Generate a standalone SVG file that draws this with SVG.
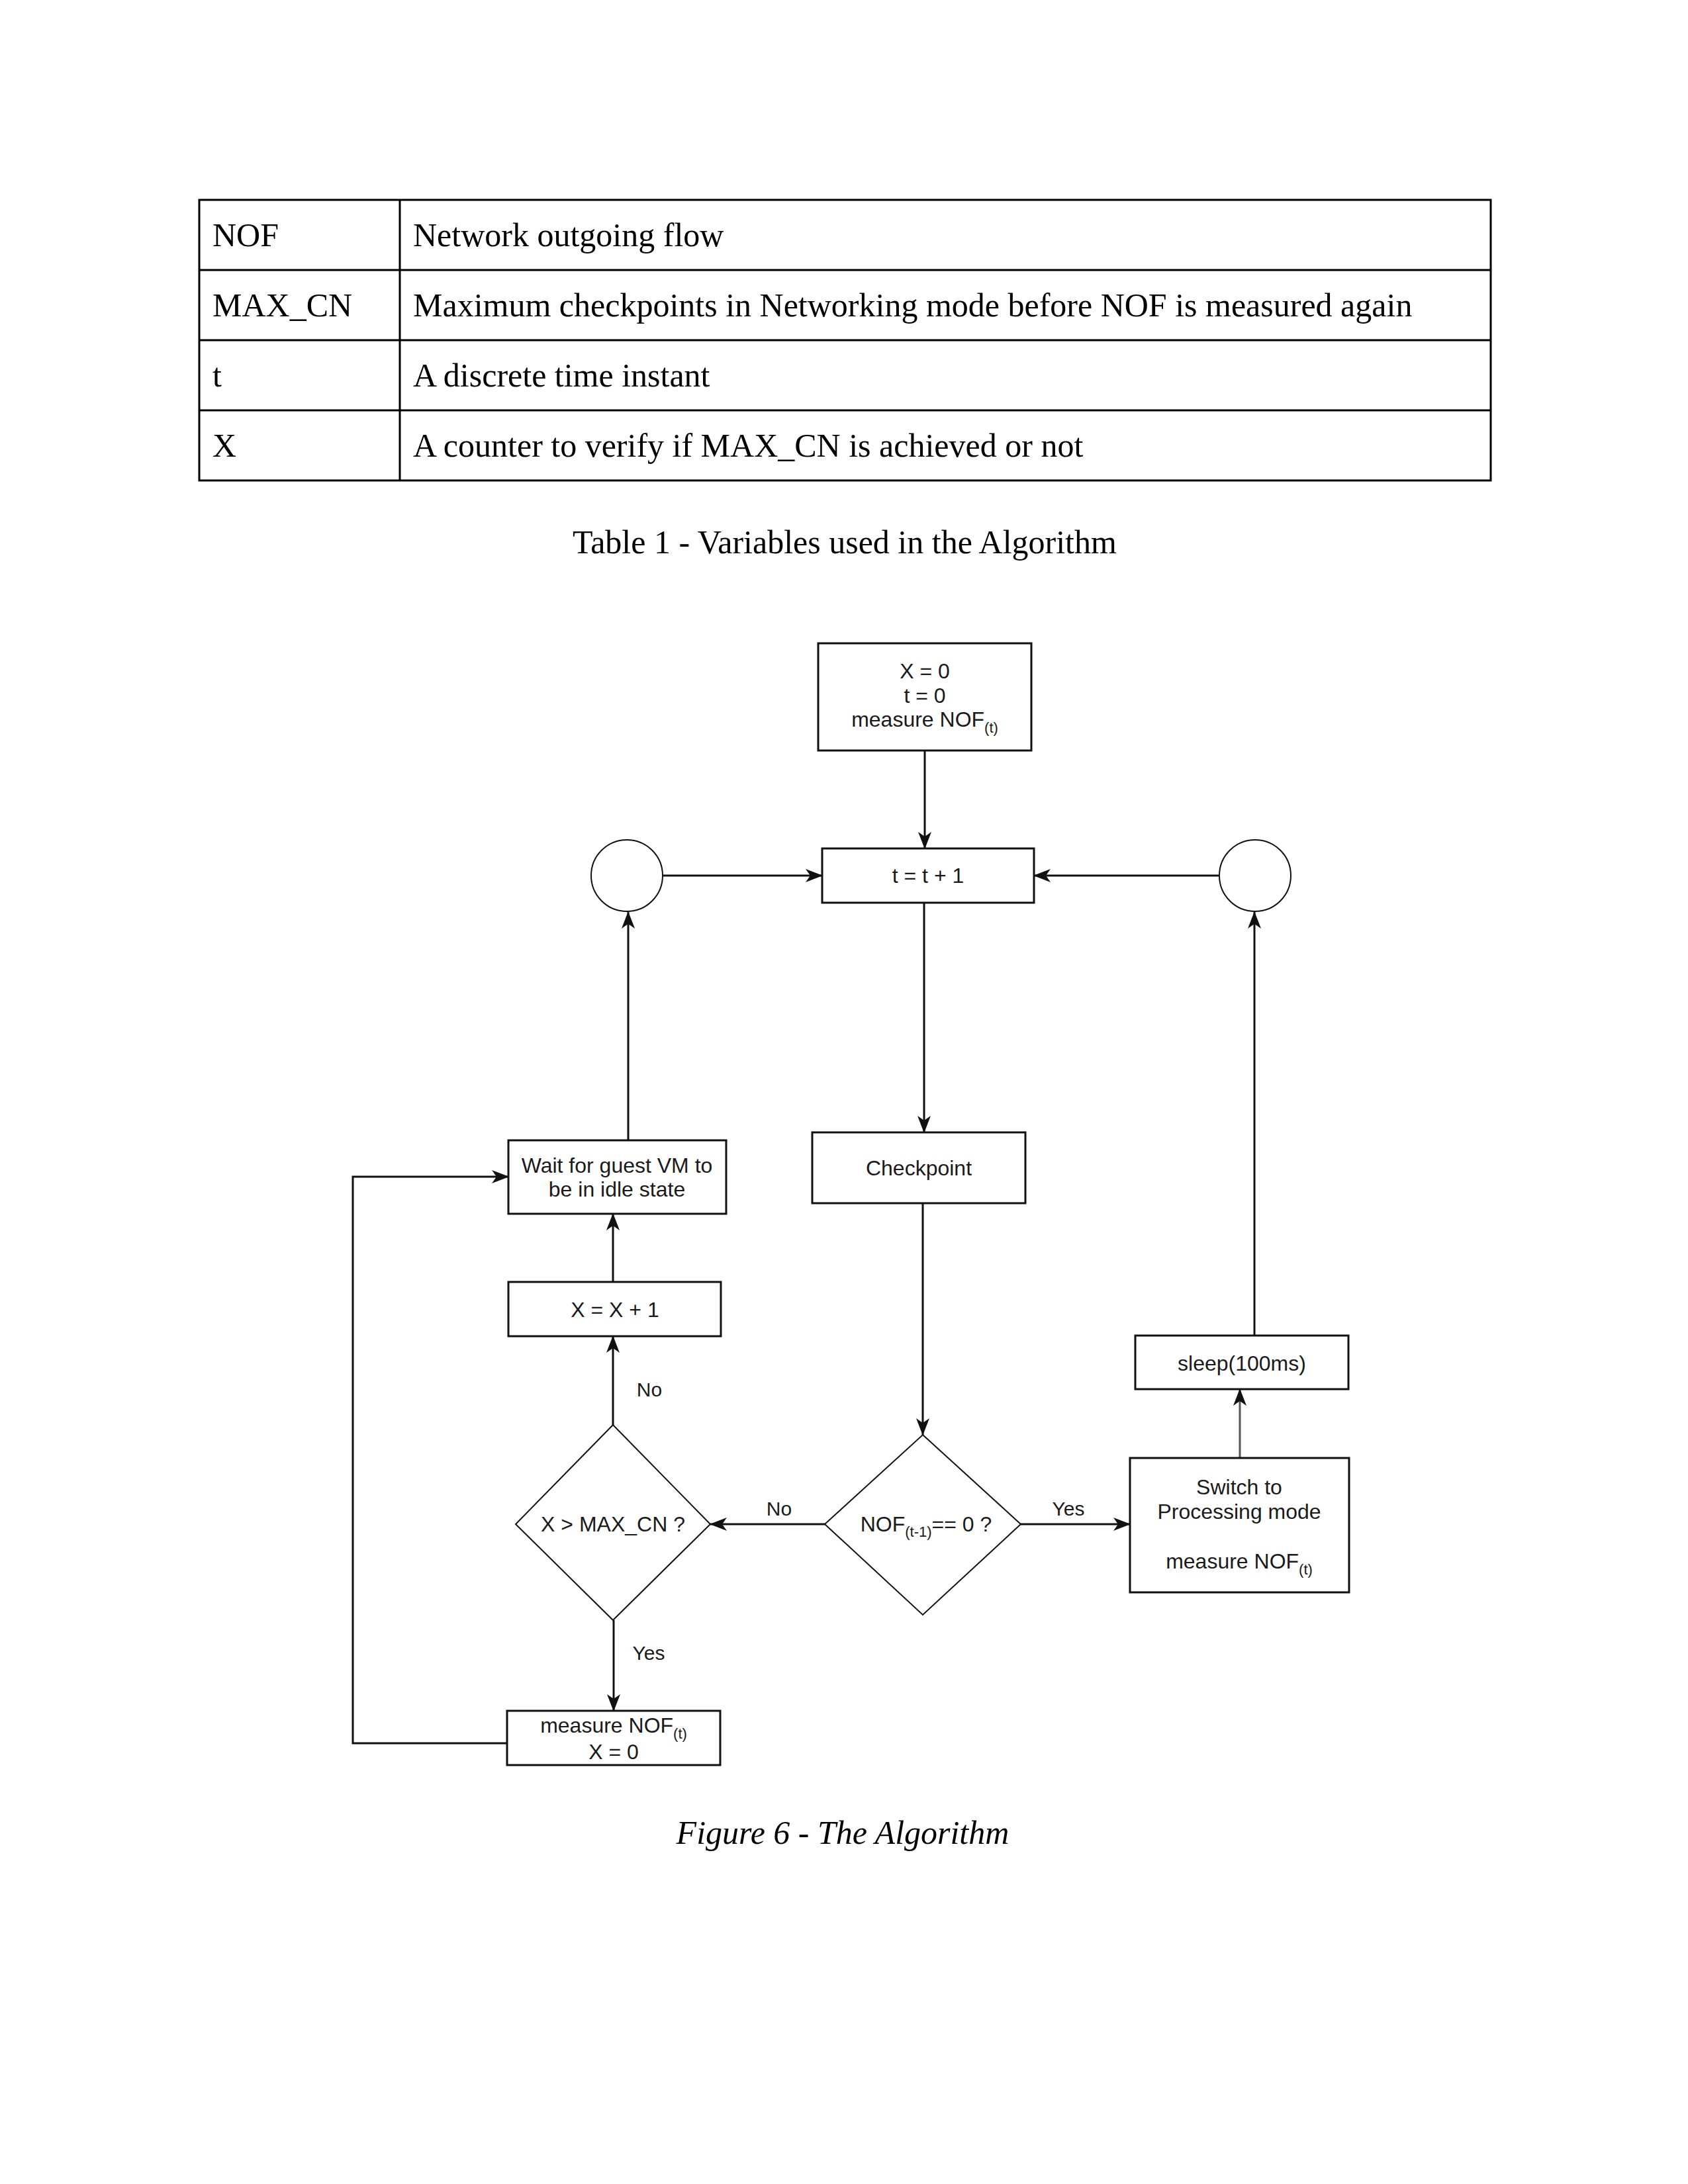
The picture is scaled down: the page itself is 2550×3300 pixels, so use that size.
<svg xmlns="http://www.w3.org/2000/svg" width="2550" height="3300" viewBox="0 0 2550 3300">
<defs>
<style>
.tbl{fill:none;stroke:#000;stroke-width:3}
.serif{font-family:"Liberation Serif","Times New Roman",serif;font-size:50px;fill:#000}
.box{fill:#fff;stroke:#111;stroke-width:3}
.dia{fill:#fff;stroke:#111;stroke-width:2}
.circ{fill:#fff;stroke:#111;stroke-width:2}
.lbl{font-family:"Liberation Sans",Arial,sans-serif;font-size:32px;fill:#1a1a1a;text-anchor:middle}
.edge{font-family:"Liberation Sans",Arial,sans-serif;font-size:30px;fill:#1a1a1a;text-anchor:middle}
.sub{font-size:22px}
.conn{fill:none;stroke:#111;stroke-width:3;marker-end:url(#arr)}
</style>
<marker id="arr" markerUnits="userSpaceOnUse" markerWidth="26" markerHeight="20" refX="25" refY="10" orient="auto">
<path d="M0,0 L26,10 L0,20 L7,10 Z" fill="#111"/>
</marker>
</defs>
<rect width="2550" height="3300" fill="#fff"/>

<g id="table">
<rect class="tbl" x="301" y="302" width="1951" height="424"/>
<line class="tbl" x1="301" y1="408" x2="2252" y2="408"/>
<line class="tbl" x1="301" y1="514" x2="2252" y2="514"/>
<line class="tbl" x1="301" y1="620" x2="2252" y2="620"/>
<line class="tbl" x1="604" y1="302" x2="604" y2="726"/>
<text class="serif" x="321" y="372">NOF</text>
<text class="serif" x="624" y="372">Network outgoing flow</text>
<text class="serif" x="321" y="478">MAX_CN</text>
<text class="serif" x="624" y="478">Maximum checkpoints in Networking mode before NOF is measured again</text>
<text class="serif" x="321" y="584">t</text>
<text class="serif" x="624" y="584">A discrete time instant</text>
<text class="serif" x="321" y="690">X</text>
<text class="serif" x="624" y="690">A counter to verify if MAX_CN is achieved or not</text>
</g>
<text id="table-caption" class="serif" x="1276" y="836" text-anchor="middle">Table 1 - Variables used in the Algorithm</text>

<g id="connectors">
<path class="conn" d="M1397,1135 V1282"/>
<path class="conn" d="M1001,1323 H1242"/>
<path class="conn" d="M1842,1323 H1562"/>
<path class="conn" d="M1396,1364 V1711"/>
<path class="conn" d="M1394,1819 V2168"/>
<path class="conn" d="M1246,2303 H1073"/>
<path class="conn" d="M1542,2303 H1707"/>
<path class="conn" d="M1873,2204 V2099" style="stroke:#555"/>
<path class="conn" d="M1895,2018 V1378"/>
<path class="conn" d="M926,2153 V2019"/>
<path class="conn" d="M926,1937 V1834"/>
<path class="conn" d="M949,1723 V1378"/>
<path class="conn" d="M927,2448 V2585"/>
<path class="conn" d="M766,2634 H533 V1778 H768"/>
<text class="edge" x="1177" y="2290">No</text>
<text class="edge" x="1614" y="2290">Yes</text>
<text class="edge" x="981" y="2110">No</text>
<text class="edge" x="980" y="2508">Yes</text>
</g>

<g id="start">
<rect class="box" x="1236" y="972" width="322" height="162"/>
<text class="lbl" x="1397" y="1025">X = 0</text>
<text class="lbl" x="1397" y="1062">t = 0</text>
<text class="lbl" x="1397" y="1098">measure NOF<tspan class="sub" dy="9">(t)</tspan></text>
</g>

<g id="increment-t">
<rect class="box" x="1242" y="1282" width="320" height="82"/>
<text class="lbl" x="1402" y="1334">t = t + 1</text>
</g>

<g id="circle-left">
<circle class="circ" cx="947" cy="1323" r="54"/>
</g>
<g id="circle-right">
<circle class="circ" cx="1896" cy="1323" r="54"/>
</g>

<g id="checkpoint">
<rect class="box" x="1227" y="1711" width="322" height="107"/>
<text class="lbl" x="1388" y="1776">Checkpoint</text>
</g>

<g id="nof-decision">
<polygon class="dia" points="1394,2168 1542,2303 1394,2440 1246,2303"/>
<text class="lbl" x="1399" y="2314">NOF<tspan class="sub" dy="8">(t-1)</tspan><tspan dy="-8">== 0 ?</tspan></text>
</g>

<g id="max-decision">
<polygon class="dia" points="926,2153 1073,2303 926,2448 779,2303"/>
<text class="lbl" x="926" y="2314">X &gt; MAX_CN ?</text>
</g>

<g id="switch">
<rect class="box" x="1707" y="2203" width="331" height="203"/>
<text class="lbl" x="1872" y="2258">Switch to</text>
<text class="lbl" x="1872" y="2295">Processing mode</text>
<text class="lbl" x="1872" y="2370">measure NOF<tspan class="sub" dy="9">(t)</tspan></text>
</g>

<g id="sleep">
<rect class="box" x="1715" y="2018" width="322" height="81"/>
<text class="lbl" x="1876" y="2071">sleep(100ms)</text>
</g>

<g id="wait">
<rect class="box" x="768" y="1723" width="329" height="111"/>
<text class="lbl" x="932" y="1772">Wait for guest VM to</text>
<text class="lbl" x="932" y="1808">be in idle state</text>
</g>

<g id="increment-x">
<rect class="box" x="768" y="1937" width="321" height="82"/>
<text class="lbl" x="929" y="1990">X = X + 1</text>
</g>

<g id="reset">
<rect class="box" x="766" y="2585" width="322" height="82"/>
<text class="lbl" x="927" y="2618">measure NOF<tspan class="sub" dy="9">(t)</tspan></text>
<text class="lbl" x="927" y="2658">X = 0</text>
</g>

<text id="figure-caption" x="1273" y="2786" text-anchor="middle" style="font-family:'Liberation Serif','Times New Roman',serif;font-size:50px;font-style:italic;fill:#000">Figure 6 - The Algorithm</text>
</svg>
